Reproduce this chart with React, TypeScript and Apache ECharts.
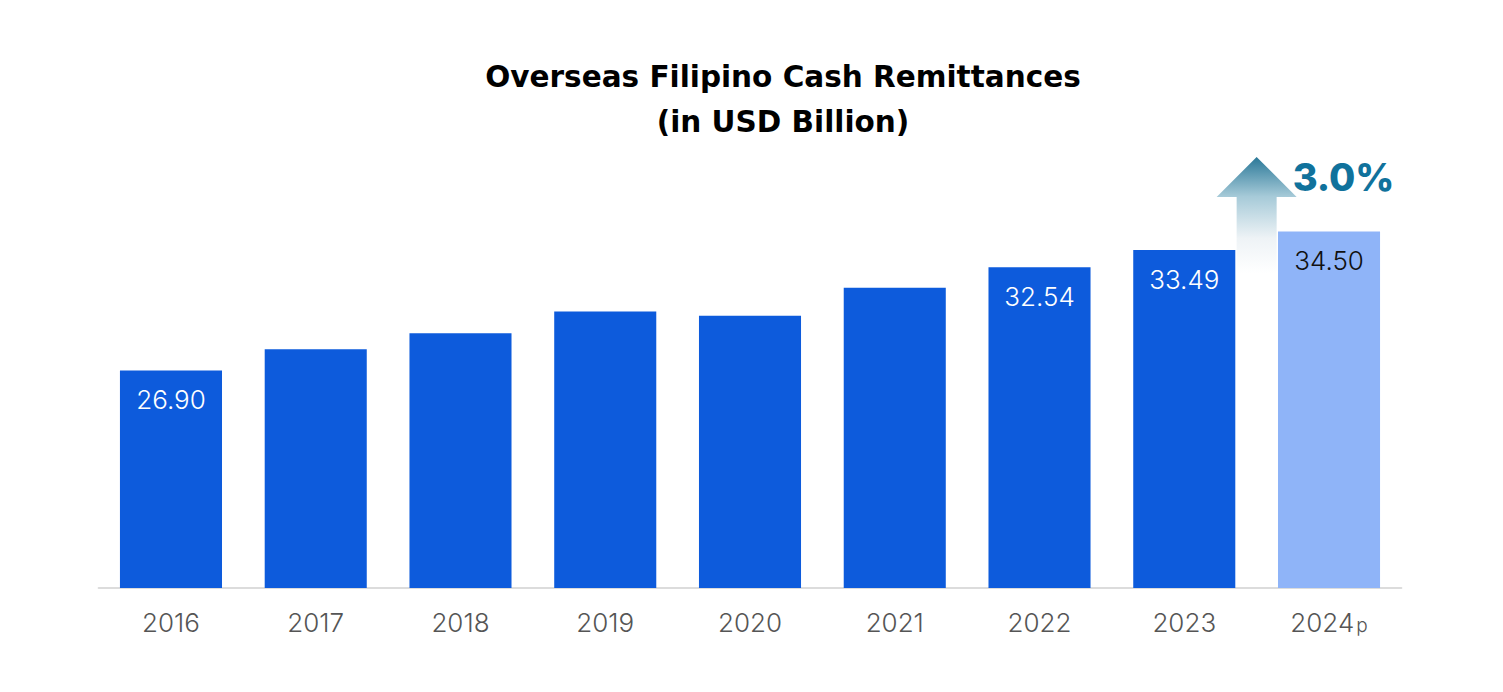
import React, { useEffect, useRef } from "react";
import * as echarts from "echarts";

const categories = ["2016", "2017", "2018", "2019", "2020", "2021", "2022", "2023", "2024p"];
const values = [26.9, 28.06, 28.94, 30.13, 29.9, 31.42, 32.54, 33.49, 34.5];
const labeledYears = ["2016", "2022", "2023", "2024p"];
const growthLabel = "3.0%";
const titleLines = ["Overseas Filipino Cash Remittances", "(in USD Billion)"];

const FONT = "Inter, 'Noto Sans', sans-serif";
const TITLE_FONT = "'DejaVu Sans', Inter, sans-serif";

export default function App() {
  const ref = useRef<HTMLDivElement>(null);
  useEffect(() => {
    if (!ref.current) return;
    const chart = echarts.init(ref.current, undefined, { renderer: "svg" });
    const data = values.map((v, i) => {
      const isProj = i === values.length - 1;
      const show = labeledYears.includes(categories[i]);
      return {
        value: v,
        itemStyle: { color: isProj ? "#8fb4f8" : "#0d5bdc" },
        label: {
          show,
          position: "insideTop",
          distance: 16,
          color: isProj ? "#111111" : "#ffffff",
          fontSize: 26,
          fontWeight: 300,
          fontFamily: FONT,
          formatter: (p: any) => Number(p.value).toFixed(2),
        },
      };
    });
    chart.setOption({
      animation: false,
      grid: { left: 98.6, right: 101.6, top: 131, bottom: 104 },
      xAxis: {
        type: "category",
        data: categories,
        axisLine: { lineStyle: { color: "#dcdcdc", width: 2 } },
        axisTick: { show: false },
        axisLabel: {
          interval: 0,
          margin: 21,
          color: "#555555",
          fontSize: 26,
          fontFamily: FONT,
          fontWeight: 300,
          formatter: (v: string) => (v.endsWith("p") ? `${v.slice(0, -1)}{s|p}` : v),
          rich: { s: { fontSize: 19, color: "#555555", fontFamily: FONT, fontWeight: 300, verticalAlign: "bottom", padding: [0, 0, 0, 2] } },
        },
      },
      yAxis: {
        type: "value",
        min: 15,
        max: 40,
        show: false,
        splitLine: { show: false },
      },
      series: [
        {
          type: "bar",
          data,
          barCategoryGap: "29.5%",
        },
      ],
    });
    const p23 = chart.convertToPixel({ xAxisIndex: 0, yAxisIndex: 0 }, [7, 15]) as number[];
    const p24 = chart.convertToPixel({ xAxisIndex: 0, yAxisIndex: 0 }, [8, 15]) as number[];
    const cx = (p23[0] + p24[0]) / 2;
    const tipY = 157;
    chart.setOption({
      graphic: [
        {
          type: "text",
          x: 783,
          y: 54,
          style: {
            text: titleLines.join("\n"),
            fill: "#000",
            fontSize: 29.5,
            fontWeight: 700,
            fontFamily: TITLE_FONT,
            lineHeight: 45,
            align: "center",
            verticalAlign: "top",
          },
        },
        {
          type: "polygon",
          shape: {
            points: [
              [cx, tipY],
              [cx + 40, tipY + 40],
              [cx + 20, tipY + 40],
              [cx + 20, tipY + 116],
              [cx - 20, tipY + 116],
              [cx - 20, tipY + 40],
              [cx - 40, tipY + 40],
            ],
          },
          style: {
            fill: new echarts.graphic.LinearGradient(0, 0, 0, 1, [
              { offset: 0, color: "#2a7898" },
              { offset: 0.34, color: "#a6cad8" },
              { offset: 0.7, color: "#eef3f6" },
              { offset: 1, color: "#ffffff" },
            ]),
          },
          z: 0,
        },
        {
          type: "text",
          x: cx + 36,
          y: 177,
          style: {
            text: growthLabel,
            fill: "#10729c",
            fontSize: 38,
            fontWeight: 800,
            fontFamily: FONT,
            verticalAlign: "middle",
            align: "left",
          },
        },
      ],
    });
    return () => chart.dispose();
  }, []);
  return <div ref={ref} style={{ position: "fixed", left: 0, top: 0, width: 1503, height: 692, background: "#fff" }} />;
}
